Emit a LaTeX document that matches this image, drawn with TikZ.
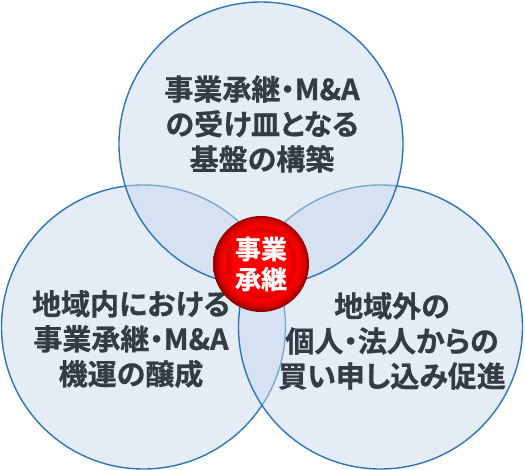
\documentclass[tikz,border=0pt]{standalone}
\usepackage{fontspec}
\usepackage{tikz}
\usetikzlibrary{positioning}
\newfontfamily\cjk{Noto Sans CJK JP}[BoldFont={Noto Sans CJK JP Bold},
  BoldFeatures={FakeBold=0.8}, RawFeature=+palt]
\definecolor{ringblue}{HTML}{2E75B6}
\definecolor{ringfill}{HTML}{C9D9ED}
\definecolor{labelgray}{HTML}{333B44}
\pgfdeclareradialshading{redball}{\pgfpoint{0bp}{1bp}}{%
  color(0bp)=(red);color(15bp)=(red);color(17.5bp)=(red!85!black);
  color(19bp)=(red);color(22.5bp)=(red!85!black);color(25bp)=(red!55!black);
  color(50bp)=(red!55!black)}

\begin{document}
\begin{tikzpicture}[
  x=1pt, y=-1pt,
  every node/.style={font=\cjk\bfseries},
  ring/.style={circle, draw=ringblue, line width=1.4pt, fill=ringfill,
    fill opacity=0.5, minimum size=284pt, inner sep=0pt},
  label/.style={align=center, text=labelgray, font=\cjk\bfseries\fontsize{29}{35}\selectfont},
  core/.style={circle, shading=redball, minimum size=96pt, inner sep=0pt,
    align=center, text=white, font=\cjk\bfseries\fontsize{26}{30}\selectfont}
]
\useasboundingbox (0,0) rectangle (525,469);

% the three circles
\node[ring] (local) at (143.5,327) {};
\node[ring] (outside) at (380.5,327) {};
\node[ring] (base) at (261,144) {};

% texts
\node[label] (basetext) at (262,124) {事業承継・M\&A\\の受け皿となる\\基盤の構築};
\node[label] (localtext) at (131,339) {地域内における\\事業承継・M\&A\\機運の醸成};
\node[label] (outsidetext) at (392,341) {地域外の\\個人・法人からの\\買い申し込み促進};

% centre
\node[core] (succession) at (261,264) {事業\\承継};
\end{tikzpicture}
\end{document}
